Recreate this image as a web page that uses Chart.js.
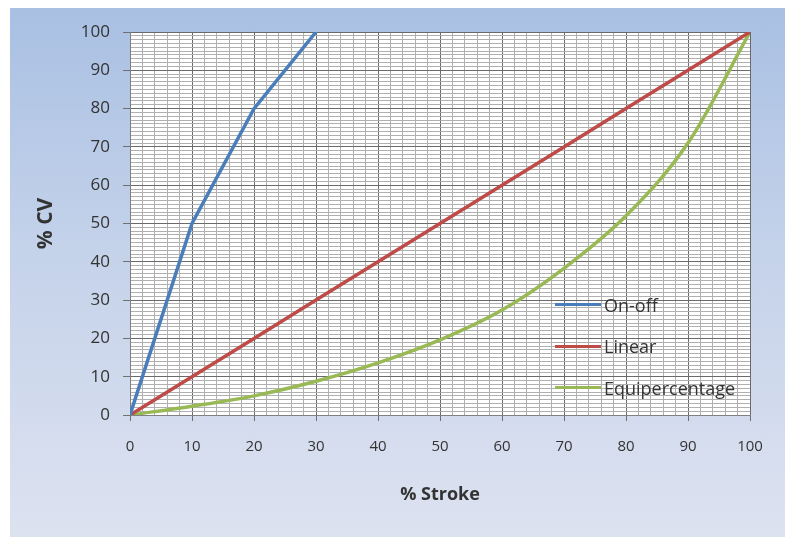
<!DOCTYPE html>
<html>
<head>
<meta charset="utf-8">
<script src="https://cdn.jsdelivr.net/npm/chart.js@4/dist/chart.umd.min.js"></script>
<style>
  html, body { margin: 0; padding: 0; background: #ffffff; }
  #wrap { position: relative; width: 785px; height: 537px; }
  #bg {
    position: absolute; left: 10px; top: 8px; width: 775px; height: 529px;
    background: linear-gradient(to bottom, #a9c0e3 0%, #c4d2ea 45%, #dde2f0 100%);
  }
  #chart { position: absolute; left: 0; top: 0; }
  #legend { position: absolute; left: 555px; top: 284px; font-family: "Open Sans", sans-serif; font-size: 18px; color: #333; }
  #legend div { display: flex; align-items: center; height: 41.5px; }
  #legend span.sw { display: inline-block; width: 46px; height: 3px; margin-right: 3px; }
</style>
</head>
<body>
<div id="wrap">
  <div id="bg"></div>
  <canvas id="chart" width="785" height="537"></canvas>
  <div id="legend"></div>
</div>
<script>
// % stroke positions and % CV values
const onOffX = [0, 10, 20, 30];
const onOffY = [0, 50, 80, 100];
const linearX = [0, 10, 20, 30, 40, 50, 60, 70, 80, 90, 100];
const linearY = [0, 10, 20, 30, 40, 50, 60, 70, 80, 90, 100];
const equiX = [0, 10, 20, 30, 40, 50, 60, 70, 80, 90, 100];
const equiY = [0, 2.3, 5, 8.8, 13.6, 19.6, 27.4, 38.3, 52, 71, 100];

const seriesNames = ['On-off', 'Linear', 'Equipercentage'];
const seriesColors = ['#4a7ebb', '#be4b48', '#98b954'];

function pts(xs, ys) {
    return xs.map((x, i) => ({x: x, y: ys[i]}));
}

const plotBg = {
    id: 'plotBg',
    beforeDraw(chart) {
        const a = chart.chartArea;
        const ctx = chart.ctx;
        ctx.save();
        ctx.fillStyle = '#ffffff';
        ctx.fillRect(a.left, a.top, a.right - a.left, a.bottom - a.top);
        ctx.restore();
    }
};

const fam = '"Open Sans", sans-serif';

const myChart = new Chart(document.getElementById('chart'), {
    type: 'scatter',
    data: {
        datasets: [
            {label: seriesNames[0], data: pts(onOffX, onOffY), borderColor: seriesColors[0], backgroundColor: seriesColors[0], showLine: true, borderWidth: 3.5, pointRadius: 0, tension: 0},
            {label: seriesNames[1], data: pts(linearX, linearY), borderColor: seriesColors[1], backgroundColor: seriesColors[1], showLine: true, borderWidth: 3.5, pointRadius: 0, tension: 0},
            {label: seriesNames[2], data: pts(equiX, equiY), borderColor: seriesColors[2], backgroundColor: seriesColors[2], showLine: true, borderWidth: 3.5, pointRadius: 0, cubicInterpolationMode: 'monotone'}
        ]
    },
    options: {
        responsive: false,
        animation: false,
        layout: {padding: {left: 10, top: 32, right: 35, bottom: 0}},
        plugins: {legend: {display: false}, tooltip: {enabled: false}},
        scales: {
            x: {
                type: 'linear', min: 0, max: 100,
                afterFit(scale) { scale.height = 122; },
                ticks: {
                    stepSize: 2, autoSkip: false, maxRotation: 0, padding: 17,
                    color: '#333', font: {family: fam, size: 15},
                    callback: v => (v % 10 === 0 ? String(v) : '')
                },
                grid: {
                    color: c => (c.tick && c.tick.value % 10 === 0 ? '#6a6a6a' : '#b0b0b0'),
                    tickColor: c => (c.tick && c.tick.value % 10 === 0 ? '#707070' : 'rgba(0,0,0,0)'),
                    tickLength: 6, lineWidth: 1
                },
                border: {color: '#808080'},
                title: {display: true, text: '% Stroke', color: '#333', font: {family: fam, size: 18, weight: 'bold', lineHeight: 1.2}, padding: {top: 0, bottom: 31}}
            },
            y: {
                type: 'linear', min: 0, max: 100,
                afterFit(scale) { scale.width = 120; },
                ticks: {
                    stepSize: 1, autoSkip: false, padding: 13,
                    color: '#333', font: {family: fam, size: 17},
                    callback: v => (v % 10 === 0 ? String(v) : '')
                },
                grid: {
                    color: c => (c.tick && c.tick.value % 10 === 0 ? '#6a6a6a' : '#b0b0b0'),
                    tickColor: c => (c.tick && c.tick.value % 10 === 0 ? '#707070' : 'rgba(0,0,0,0)'),
                    tickLength: 7, lineWidth: 1
                },
                border: {color: '#808080'},
                title: {display: true, text: '% CV', color: '#333', font: {family: fam, size: 21, weight: 'bold', lineHeight: 1.2}, padding: {top: 23, bottom: 0}}
            }
        }
    },
    plugins: [plotBg]
});

// legend sits inside the plot, like the original
const legendBox = document.getElementById('legend');
myChart.data.datasets.forEach(ds => {
    const row = document.createElement('div');
    const sw = document.createElement('span');
    sw.className = 'sw';
    sw.style.background = ds.borderColor;
    row.appendChild(sw);
    row.appendChild(document.createTextNode(ds.label));
    legendBox.appendChild(row);
});
</script>
</body>
</html>
